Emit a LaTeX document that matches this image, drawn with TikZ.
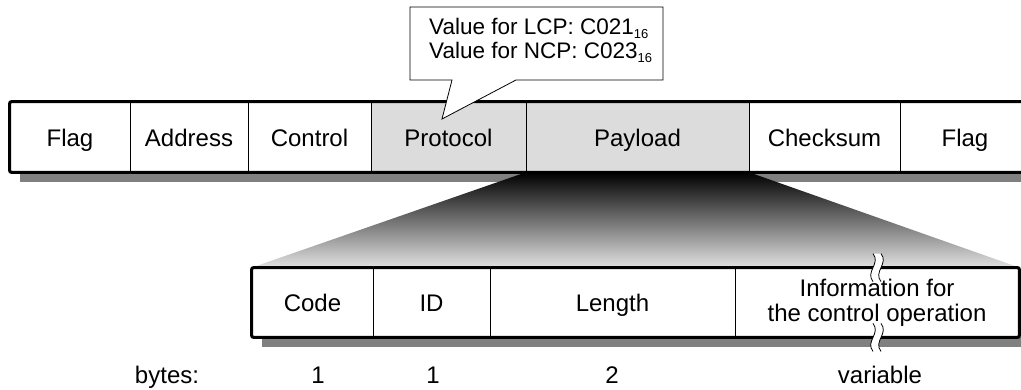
\documentclass[tikz,border=0pt]{standalone}
\usepackage{fontspec}
\setmainfont{Liberation Sans}
\usetikzlibrary{positioning,backgrounds}
\definecolor{CellGray}{HTML}{DCDCDC}
\definecolor{ShadowGray}{HTML}{808080}
\definecolor{FadeGray}{HTML}{E2E2E2}
\newcommand{\hexsub}[1]{\raisebox{-4pt}{\fontsize{13}{13}\selectfont #1}}

\begin{document}
\begin{tikzpicture}[x=1pt, y=-1pt,
  cellbase/.style={draw=black, fill=white, line width=0.8pt, minimum height=70pt, inner sep=0pt, font=\fontsize{24}{26}\selectfont},
  cell/.style={cellbase, text height=20pt, text depth=1pt},
  hicell/.style={cell, fill=CellGray},
  frame/.style={draw=black, line width=3pt, rounded corners=2pt},
  shadow/.style={fill=ShadowGray},
  lbl/.style={font=\fontsize{24}{26}\selectfont, text height=17pt, text depth=5pt},
  brk/.style={draw=black, line width=0.8pt}
]
\useasboundingbox (0,0) rectangle (1021,390);
% PPP frame
\node[cell, minimum width=120pt] (flagA) at (70,137) {Flag};
\node[cell, minimum width=118pt] (addr) at (189,137) {Address};
\node[cell, minimum width=123pt] (ctrl) at (309.5,137) {Control};
\node[hicell, minimum width=155pt] (proto) at (448.5,137) {Protocol};
\node[hicell, minimum width=223pt] (payload) at (637.5,137) {Payload};
\node[cell, minimum width=151pt] (chk) at (824.5,137) {Checksum};
\node[cell, minimum width=130pt] (flagB) at (965,137) {Flag};
\draw[frame] (flagA.north west) rectangle (flagB.south east);
% control packet
\node[cell, minimum width=121pt, minimum height=69pt] (code) at (312.5,302.5) {Code};
\node[cell, minimum width=117pt, minimum height=69pt] (ident) at (431.5,302.5) {ID};
\node[cell, minimum width=245pt, minimum height=69pt] (len) at (612.5,302.5) {Length};
\node[cellbase, minimum width=284pt, minimum height=69pt, align=center, font=\fontsize{24}{25}\selectfont] (info) at (877,302.5) {Information for\\the control operation};
\draw[frame] (code.north west) rectangle (info.south east);
% shadows and fan-out
\begin{pgfonlayer}{background}
  \fill[shadow] ([shift={(10,10)}]flagA.north west) rectangle ([shift={(10,10)}]flagB.south east);
  \fill[shadow] ([shift={(10,10)}]code.north west) rectangle ([shift={(10,10)}]info.south east);
  \shade[top color=black, bottom color=FadeGray] (payload.south west) -- (payload.south east) -- (info.north east) -- (code.north west) -- cycle;
\end{pgfonlayer}
% break marks
\foreach \a in {north,south}{
  \fill[white] ([shift={(-4,-14)}]info.\a) .. controls +(8,10) and +(-8,-10) .. ([shift={(-4,14)}]info.\a)
    -- ([shift={(4,14)}]info.\a) .. controls +(-8,-10) and +(8,10) .. ([shift={(4,-14)}]info.\a) -- cycle;
  \draw[brk] ([shift={(-4,-14)}]info.\a) .. controls +(8,10) and +(-8,-10) .. ([shift={(-4,14)}]info.\a);
  \draw[brk] ([shift={(4,-14)}]info.\a) .. controls +(8,10) and +(-8,-10) .. ([shift={(4,14)}]info.\a);
}
% byte counts
\node[lbl] (bytes) at (167,377) {bytes:};
\node[lbl] (ncode) at (318,377) {1};
\node[lbl] (nid) at (433,377) {1};
\node[lbl] (nlen) at (612,377) {2};
\node[lbl] (ninfo) at (880,377) {variable};
% callout
\coordinate (tip) at (442,119);
\draw[fill=white, line width=0.8pt] (410,7) -- (663,7) -- (663,80) -- (516,80) -- (tip) -- (452,80) -- (410,80) -- cycle;
\node[anchor=west, align=left, inner sep=0pt, font=\fontsize{22.5}{24}\selectfont] (vals) at (429,40) {Value for LCP: C021\hexsub{16}\\Value for NCP: C023\hexsub{16}};
\end{tikzpicture}
\end{document}
